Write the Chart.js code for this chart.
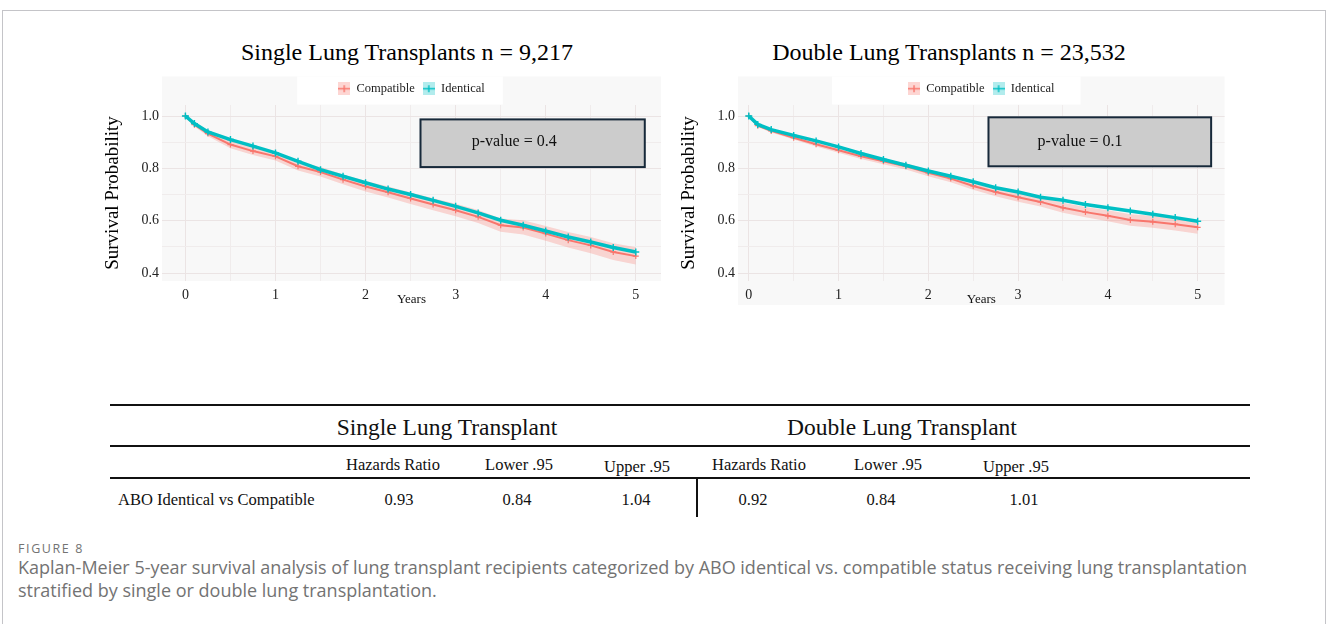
<!DOCTYPE html>
<html>
<head>
<meta charset="utf-8">
<script src="https://cdn.jsdelivr.net/npm/chart.js@4.4.1/dist/chart.umd.min.js"></script>
<style>
  html, body { margin: 0; padding: 0; background: #fff; width: 1328px; height: 624px; overflow: hidden; }
  #frame { position: absolute; left: 2px; top: 10px; width: 1322px; height: 700px; border: 1px solid #c4c4c8; }
  .abs { position: absolute; white-space: nowrap; font-family: 'Liberation Serif', 'Times New Roman', serif; color: #111; }
  .c { transform: translate(-50%, -50%); }
  .l { transform: translate(0, -50%); }
  .ttl { font-size: 24px; color: #000; }
  .grp { font-size: 23.5px; }
  .cell { font-size: 16.5px; }
  .rule { position: absolute; background: #111; height: 2px; left: 110px; width: 1140px; }
  canvas { position: absolute; }
  .cap { position: absolute; left: 18px; white-space: nowrap; font-family: 'Open Sans', sans-serif; color: #737373; }
</style>
</head>
<body>
<div id="frame"></div>

<div class="abs c ttl" style="left:407px;top:52px">Single Lung Transplants n = 9,217</div>
<div class="abs c ttl" style="left:949px;top:52px">Double Lung Transplants n = 23,532</div>

<canvas id="single" width="576" height="290" style="left:94px;top:30px"></canvas>
<canvas id="double" width="560" height="290" style="left:670px;top:30px"></canvas>

<div class="rule" style="top:404px"></div>
<div class="rule" style="top:445px"></div>
<div class="rule" style="top:477px"></div>
<div style="position:absolute;left:696px;top:479px;width:2px;height:38px;background:#111"></div>
<div id="table"></div>

<div class="cap" style="top:540px;font-size:12.5px;letter-spacing:1.6px">FIGURE 8</div>
<div class="cap" style="top:556px;font-size:18px;line-height:23px">Kaplan-Meier 5-year survival analysis of lung transplant recipients categorized by ABO identical vs. compatible status receiving lung transplantation<br>stratified by single or double lung transplantation.</div>

<script>
// time points (years) the curves were read at
const years = [0, 0.1, 0.25, 0.5, 0.75, 1, 1.25, 1.5, 1.75, 2, 2.25, 2.5, 2.75, 3, 3.25, 3.5, 3.75, 4, 4.25, 4.5, 4.75, 5];

// single lung
const singleIdentical  = [1.0, 0.971, 0.939, 0.910, 0.885, 0.859, 0.827, 0.795, 0.770, 0.745, 0.721, 0.700, 0.678, 0.655, 0.630, 0.602, 0.583, 0.561, 0.538, 0.519, 0.498, 0.481];
const singleCompatible = [1.0, 0.967, 0.933, 0.891, 0.866, 0.846, 0.808, 0.786, 0.757, 0.731, 0.709, 0.685, 0.662, 0.640, 0.615, 0.583, 0.574, 0.551, 0.526, 0.506, 0.481, 0.465];
const singleCompLow    = [1.0, 0.960, 0.923, 0.877, 0.851, 0.830, 0.792, 0.769, 0.739, 0.712, 0.689, 0.664, 0.640, 0.617, 0.591, 0.558, 0.548, 0.524, 0.498, 0.476, 0.450, 0.433];
const singleCompHigh   = [1.0, 0.976, 0.946, 0.907, 0.883, 0.863, 0.826, 0.805, 0.777, 0.752, 0.731, 0.708, 0.686, 0.665, 0.641, 0.609, 0.602, 0.580, 0.557, 0.538, 0.514, 0.499];

// double lung
const doubleIdentical  = [1.0, 0.968, 0.948, 0.926, 0.905, 0.882, 0.857, 0.834, 0.812, 0.790, 0.770, 0.749, 0.726, 0.710, 0.690, 0.678, 0.662, 0.650, 0.637, 0.625, 0.612, 0.598];
const doubleCompatible = [1.0, 0.963, 0.943, 0.917, 0.892, 0.869, 0.846, 0.827, 0.808, 0.783, 0.761, 0.733, 0.710, 0.690, 0.672, 0.650, 0.633, 0.619, 0.603, 0.596, 0.587, 0.575];
const doubleCompLow    = [1.0, 0.958, 0.937, 0.910, 0.884, 0.860, 0.836, 0.816, 0.796, 0.770, 0.747, 0.718, 0.694, 0.673, 0.654, 0.631, 0.613, 0.598, 0.581, 0.573, 0.563, 0.550];
const doubleCompHigh   = [1.0, 0.968, 0.949, 0.924, 0.900, 0.878, 0.856, 0.838, 0.820, 0.796, 0.775, 0.748, 0.726, 0.707, 0.690, 0.669, 0.653, 0.640, 0.625, 0.619, 0.611, 0.600];

const seriesNames = ['Compatible', 'Identical'];
const xTicks = [0, 1, 2, 3, 4, 5];
const xGrid = [0, 0.5, 1, 1.5, 2, 2.5, 3, 3.5, 4, 4.5, 5];
const yTicks = [0.4, 0.6, 0.8, 1.0];
const yGrid = [0.4, 0.5, 0.6, 0.7, 0.8, 0.9, 1.0];
const pValues = ['0.4', '0.1'];

// hazard ratio table
const tableHeads = ['Hazards Ratio', 'Lower .95', 'Upper .95'];
const tableGroups = ['Single Lung Transplant', 'Double Lung Transplant'];
const rowLabel = 'ABO Identical vs Compatible';
const singleHR = ['0.93', '0.84', '1.04'];
const doubleHR = ['0.92', '0.84', '1.01'];

const RED = '#F8766D', TEAL = '#00BFC4';
const SERIF = "'Liberation Serif', 'Times New Roman', serif";

function pts(arr) { return years.map((t, i) => ({ x: t, y: arr[i] })); }

function keyIcon(color, tint) {
  const c = document.createElement('canvas');
  c.width = 12; c.height = 13;
  const g = c.getContext('2d');
  g.fillStyle = tint; g.fillRect(0, 0, 12, 13);
  g.strokeStyle = color; g.lineWidth = 1.4;
  g.beginPath(); g.moveTo(0, 6.5); g.lineTo(12, 6.5); g.moveTo(6, 3); g.lineTo(6, 10); g.stroke();
  return c;
}
const icons = [keyIcon(RED, 'rgba(248,118,109,0.3)'), keyIcon(TEAL, 'rgba(0,191,196,0.3)')];

const panel = {
  id: 'panel',
  beforeDraw(chart, args, o) {
    const { ctx, chartArea: a, legend: lg } = chart;
    const top = lg.top + 2;
    ctx.save();
    ctx.fillStyle = '#f8f8f8';
    ctx.fillRect(a.left, top, a.right - a.left, a.bottom + o.extraBottom - top);
    const hb = lg.legendHitBoxes;
    if (hb && hb.length) {
      const last = hb[hb.length - 1];
      const x0 = hb[0].left - o.keyPadL, x1 = last.left + last.width + o.keyPadR;
      ctx.fillStyle = '#fff';
      ctx.fillRect(x0, top, x1 - x0, 28);
    }
    ctx.restore();
  },
  afterDatasetsDraw(chart, args, o) {
    const { ctx, scales: { x, y } } = chart;
    const b = o.box;
    const l = x.getPixelForValue(b.x0), r = x.getPixelForValue(b.x1);
    const t = y.getPixelForValue(b.y1), btm = y.getPixelForValue(b.y0);
    ctx.save();
    ctx.fillStyle = '#cccccc';
    ctx.fillRect(l, t, r - l, btm - t);
    ctx.strokeStyle = '#17293a'; ctx.lineWidth = 2;
    ctx.strokeRect(l, t, r - l, btm - t);
    ctx.fillStyle = '#111';
    ctx.font = '16px ' + SERIF;
    ctx.textAlign = 'center'; ctx.textBaseline = 'middle';
    ctx.fillText('p-value = ' + o.p, x.getPixelForValue(b.tx), y.getPixelForValue(b.ty));
    ctx.restore();
  }
};

function makeChart(id, ident, comp, low, high, o) {
  const gridColor = vals => c => (c.tick && vals.includes(c.tick.value)) ? '#ebe4e4' : '#f0ecec';
  return new Chart(document.getElementById(id), {
    type: 'line',
    data: {
      datasets: [
        { label: '', data: pts(low), borderWidth: 0, pointRadius: 0, fill: false, order: 3 },
        { label: '', data: pts(high), borderWidth: 0, pointRadius: 0, fill: '-1', backgroundColor: 'rgba(248,118,109,0.28)', order: 2 },
        { label: seriesNames[0], data: pts(comp), borderColor: RED, borderWidth: 2, pointStyle: 'cross', pointRadius: 3, pointBorderWidth: 1.2, pointBorderColor: RED, order: 1 },
        { label: seriesNames[1], data: pts(ident), borderColor: TEAL, borderWidth: 3.5, pointStyle: 'cross', pointRadius: 3.5, pointBorderWidth: 1.4, pointBorderColor: TEAL, order: 0 }
      ]
    },
    options: {
      responsive: false,
      animation: false,
      layout: { padding: { top: 44.5, right: o.padR, bottom: 13, left: 0 } },
      plugins: {
        tooltip: { enabled: false },
        legend: {
          position: 'top',
          fullSize: false,
          labels: {
            usePointStyle: true,
            boxWidth: 12,
            padding: 8,
            color: '#222',
            font: { family: SERIF, size: 12.5 },
            generateLabels: ch => [2, 3].map((i, k) => ({
              text: ch.data.datasets[i].label,
              pointStyle: icons[k],
              fontColor: '#222',
              lineWidth: 0,
              hidden: false,
              datasetIndex: i
            }))
          }
        },
        panel: { extraBottom: o.extraBottom, keyPadL: o.keyPadL, keyPadR: o.keyPadR, box: o.box, p: o.p }
      },
      scales: {
        x: {
          type: 'linear',
          min: o.xMin, max: o.xMax,
          afterBuildTicks: s => { s.ticks = xGrid.map(v => ({ value: v })); },
          afterFit: s => { s.height = 26; },
          border: { display: false },
          grid: { drawTicks: false, color: gridColor(xTicks) },
          ticks: {
            autoSkip: false, maxRotation: 0, padding: 6, color: '#222',
            font: { family: SERIF, size: 14 },
            callback: v => xTicks.includes(v) ? String(v) : ''
          },
          title: { display: true, text: 'Years', color: '#111', font: { family: SERIF, size: 13 }, padding: { top: 0, bottom: 0 } }
        },
        y: {
          min: 0.37, max: 1.042,
          afterBuildTicks: s => { s.ticks = yGrid.map(v => ({ value: v })); },
          afterFit: s => { s.width = 68; },
          border: { display: false },
          grid: { drawTicks: false, color: gridColor(yTicks) },
          ticks: {
            autoSkip: false, padding: 3, color: '#222',
            font: { family: SERIF, size: 14 },
            callback: v => yTicks.includes(v) ? v.toFixed(1) : ''
          },
          title: { display: true, text: 'Survival Probability', color: '#000', font: { family: SERIF, size: 19 }, padding: { top: 8, bottom: 0 } }
        }
      }
    },
    plugins: [panel]
  });
}

makeChart('single', singleIdentical, singleCompatible, singleCompLow, singleCompHigh, {
  padR: 9, xMin: -0.26, xMax: 5.28, extraBottom: 0, keyPadL: 41, keyPadR: 18, p: pValues[0],
  box: { x0: 2.61, x1: 5.10, y0: 0.805, y1: 0.987, tx: 3.65, ty: 0.9 }
});
makeChart('double', doubleIdentical, doubleCompatible, doubleCompLow, doubleCompHigh, {
  padR: 3, xMin: -0.12, xMax: 5.30, extraBottom: 24, keyPadL: 76, keyPadR: 26, p: pValues[1],
  box: { x0: 2.67, x1: 5.15, y0: 0.808, y1: 0.995, tx: 3.69, ty: 0.903 }
});

// table text
const table = document.getElementById('table');
function put(text, x, y, cls, align) {
  const d = document.createElement('div');
  d.className = 'abs ' + cls + ' ' + (align || 'c');
  d.style.left = x + 'px'; d.style.top = y + 'px';
  d.textContent = text;
  table.appendChild(d);
}
put(tableGroups[0], 447, 427, 'grp');
put(tableGroups[1], 902, 427, 'grp');
const headX = [[393, 519, 637], [759, 888, 1016]];
const headY = [465, 465, 467];
const valX = [[399, 517, 636], [753, 881, 1024]];
tableHeads.forEach((h, i) => { put(h, headX[0][i], headY[i], 'cell'); put(h, headX[1][i], headY[i], 'cell'); });
put(rowLabel, 118, 500, 'cell', 'l');
singleHR.forEach((v, i) => put(v, valX[0][i], 500, 'cell'));
doubleHR.forEach((v, i) => put(v, valX[1][i], 500, 'cell'));
</script>
</body>
</html>
